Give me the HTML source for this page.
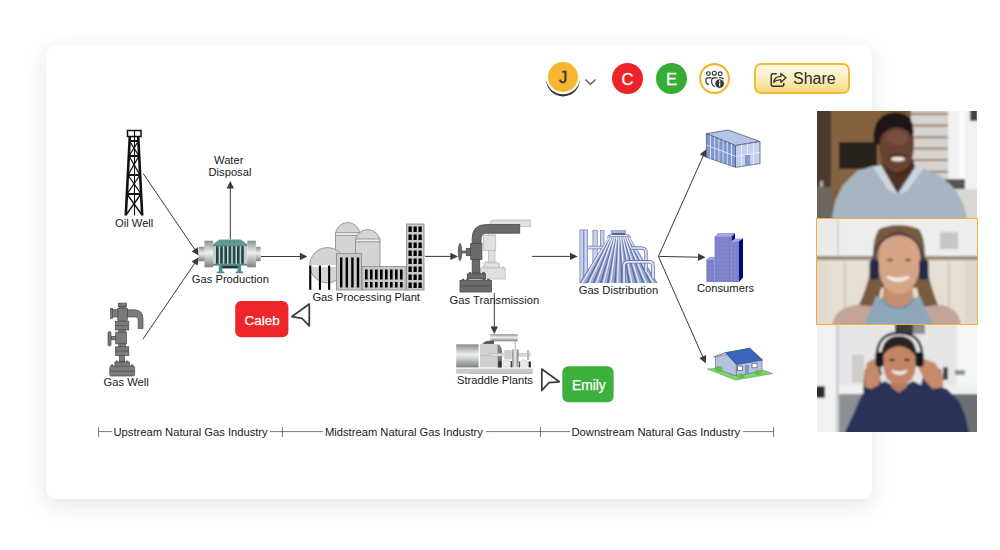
<!DOCTYPE html>
<html><head><meta charset="utf-8">
<style>
html,body{margin:0;padding:0;width:1000px;height:550px;overflow:hidden;background:#fff;font-family:"Liberation Sans",sans-serif;}
.card{position:absolute;left:46px;top:45px;width:826px;height:454px;background:#fff;border-radius:10px;box-shadow:0 6px 22px rgba(0,0,0,.11);}
.av{position:absolute;width:31px;height:31px;border-radius:50%;color:#fff;font-size:15px;line-height:31px;text-align:center;}
#diag{position:absolute;left:0;top:0;}
#diag text{font-family:"Liberation Sans",sans-serif;font-size:11.2px;fill:#1a1a1a;}
.badge{position:absolute;color:#fff;font-size:13.5px;text-align:center;border-radius:6px;}
.share{position:absolute;left:754px;top:63px;width:92px;height:27px;border:2px solid #f3bb3a;border-radius:7px;background:linear-gradient(#fff8e4 0%,#fdefc4 45%,#f9d97e 100%);}
.share span{position:absolute;left:37px;top:5px;font-size:16px;color:#2b2b2b;}
.vid{position:absolute;left:817px;width:160px;height:107px;overflow:hidden;display:block;}
</style></head>
<body>
<div class="card"></div>

<!-- avatars -->
<div class="av" style="left:548px;top:62px;width:30px;height:30px;line-height:31px;background:#f8b630;color:#333846;box-shadow:0 0 0 2.2px #fff,0 2.6px 0 1.8px #303030;font-size:16.5px;-webkit-text-stroke:0.45px #333846;">J</div>
<svg style="position:absolute;left:584px;top:77.5px" width="13" height="8"><path d="M1.5 1.5 L6.5 6.3 L11.5 1.5" fill="none" stroke="#555" stroke-width="1.2"/></svg>
<div class="av" style="left:612px;top:63px;background:#ec2427;font-size:16.5px;line-height:33px;-webkit-text-stroke:0.3px #fff;">C</div>
<div class="av" style="left:656px;top:63px;background:#36ae36;font-size:16.5px;line-height:33px;-webkit-text-stroke:0.3px #fff;">E</div>
<svg style="position:absolute;left:696px;top:60px" width="38" height="38" viewBox="0 0 38 38">
 <circle cx="18.5" cy="18.5" r="14.4" fill="#fff" stroke="#f5b624" stroke-width="2.1"/>
 <g fill="none" stroke="#333" stroke-width="1.15">
  <circle cx="12.4" cy="13.6" r="1.9"/><circle cx="18.3" cy="13.2" r="2"/><circle cx="24.2" cy="13.8" r="1.9"/>
  <path d="M15.5 17.9 H12 Q9.8 17.9 9.8 20.5 Q9.8 23.8 12.8 24.6"/>
  <path d="M21.5 17.9 H18 Q15.6 17.9 15.6 21 Q15.6 25.6 19 26.6"/>
  <path d="M23 17.9 H25.6 Q27.2 17.9 27.5 19.2"/>
 </g>
 <circle cx="23.6" cy="23.6" r="4.7" fill="#333" stroke="#fff" stroke-width="0.8"/>
 <rect x="23" y="22.6" width="1.3" height="3.7" fill="#fff"/><circle cx="23.65" cy="21.1" r="0.85" fill="#fff"/>
</svg>

<div class="share"><svg style="position:absolute;left:8px;top:0.5px" width="30" height="26" viewBox="0 0 30 26"><path d="M12.3 7.7 H9.2 Q7.2 7.7 7.2 9.7 V18.3 Q7.2 20.3 9.2 20.3 H17.8 Q19.8 20.3 19.8 18.3 V17.4" fill="none" stroke="#333" stroke-width="1.5" stroke-linecap="round"/><path d="M9.7 16.2 C10.4 12.2 13 10.4 16.9 10.4 V7.4 L22 11.7 L16.9 16.2 V13.9 C14 13.6 11.6 14.3 9.7 16.2 Z" fill="none" stroke="#333" stroke-width="1.35" stroke-linejoin="round"/></svg><span>Share</span></div>

<!-- diagram -->
<svg id="diag" width="1000" height="550" viewBox="0 0 1000 550">
 <defs>
  <linearGradient id="cylV" x1="0" y1="0" x2="0" y2="1">
   <stop offset="0" stop-color="#8a8e8e"/><stop offset="0.45" stop-color="#eef0f0"/><stop offset="1" stop-color="#7c8080"/>
  </linearGradient>
  <linearGradient id="cylH" x1="0" y1="0" x2="1" y2="0">
   <stop offset="0" stop-color="#888"/><stop offset="0.45" stop-color="#f0f0f0"/><stop offset="1" stop-color="#7a7a7a"/>
  </linearGradient>
 </defs>
 <!-- connectors -->
 <g stroke="#3a3a3a" stroke-width="1" fill="none">
<line x1="143.2" y1="173.5" x2="195.2" y2="250.1"/>
<line x1="143" y1="339" x2="195.2" y2="262.6"/>
<line x1="230.3" y1="239.4" x2="230.3" y2="187.6"/>
<line x1="261" y1="256.5" x2="300.8" y2="256.5"/>
<line x1="425" y1="256.4" x2="451.4" y2="256.4"/>
<line x1="532" y1="256.4" x2="571.0" y2="256.4"/>
<line x1="494.3" y1="293" x2="494.3" y2="327.4"/>
<line x1="658.4" y1="256.4" x2="703.6" y2="155.2"/>
<line x1="658.4" y1="256.4" x2="699.0" y2="257.2"/>
<line x1="658.4" y1="256.4" x2="703.1" y2="357.5"/>
 </g>
 <g fill="#3a3a3a">
<polygon points="198.9,255.6 191.6,251.4 197.7,247.2"/>
<polygon points="198.9,257.2 197.7,265.6 191.6,261.4"/>
<polygon points="230.3,181.0 234.0,188.6 226.6,188.6"/>
<polygon points="307.4,256.5 299.8,260.2 299.8,252.8"/>
<polygon points="458.0,256.4 450.4,260.1 450.4,252.7"/>
<polygon points="577.6,256.4 570.0,260.1 570.0,252.7"/>
<polygon points="494.3,334.0 490.6,326.4 498.0,326.4"/>
<polygon points="706.3,149.2 706.6,157.6 699.8,154.6"/>
<polygon points="705.6,257.3 697.9,260.9 698.1,253.5"/>
<polygon points="705.8,363.5 699.3,358.0 706.1,355.1"/>
 </g>

 
 <!-- Oil well derrick -->
 <g stroke="#111" fill="none">
  <rect x="127.5" y="130.5" width="13.5" height="6" stroke-width="1.5"/>
  <line x1="134.5" y1="130.5" x2="134.5" y2="136.5" stroke-width="1.2"/>
  <path d="M129.8 136.5 L125.8 215.5 M138.2 136.5 L142.2 215.5" stroke-width="2.6"/>
  <path d="M129.5 141 H138.5 M129 156 H139 M128 175 H140 M127 194 H141" stroke-width="1.8"/>
  <path d="M129.5 141 L139 156 M138.5 141 L129 156 M129 156 L140 175 M139 156 L128 175 M128 175 L141 194 M140 175 L127 194 M127 194 L142 215 M141 194 L126 215" stroke-width="1.3"/>
  <line x1="134.5" y1="136.5" x2="134.5" y2="215.5" stroke-width="1.1"/>
 </g>
 <text x="115" y="227">Oil Well</text>

 <!-- Gas well -->
 <g fill="#7b7b7b" stroke="#4c4c4c" stroke-width="0.7">
  <path d="M127 309.8 H134 Q143 309.8 143 318.8 V328.6 H138.2 V319 Q138.2 316.9 135 316.9 H127 Z"/>
  <rect x="118.3" y="303.1" width="8.3" height="3.6"/>
  <rect x="119.5" y="306.7" width="6" height="2"/>
  <rect x="117.8" y="308.2" width="9.5" height="12.4"/>
  <rect x="112.5" y="309.7" width="5.3" height="7.3"/>
  <rect x="110.6" y="308.4" width="2" height="10"/>
  <rect x="115.4" y="321.3" width="13.4" height="8.7"/>
  <line x1="115.4" y1="325.6" x2="128.8" y2="325.6"/>
  <rect x="118.8" y="330" width="6.6" height="2.2"/>
  <rect x="115.7" y="332.2" width="10.9" height="11.7"/>
  <rect x="111" y="336.4" width="4.7" height="3.4"/>
  <rect x="108" y="331.5" width="3" height="14.5" rx="1.5"/>
  <rect x="118.8" y="343.9" width="6.6" height="2.9"/>
  <rect x="115.4" y="346.8" width="13.4" height="8.7"/>
  <line x1="115.4" y1="351.1" x2="128.8" y2="351.1"/>
  <rect x="119.3" y="355.5" width="5.1" height="6.6"/>
  <rect x="114.9" y="362.1" width="14.6" height="4.2"/>
  <path d="M116 362.1 v-1.2 h1.6 v1.2 M119.4 362.1 v-1.2 h1.6 v1.2 M122.8 362.1 v-1.2 h1.6 v1.2 M126.2 362.1 v-1.2 h1.6 v1.2" fill="#666"/>
  <path d="M111 366.3 v-1.4 h2 v1.4 M131 366.3 v-1.4 h2 v1.4" fill="#666"/>
  <rect x="109.8" y="366.2" width="24.8" height="9.8" rx="1.2"/>
  <line x1="109.8" y1="371.2" x2="134.6" y2="371.2"/>
 </g>
 <text x="103.5" y="386.4">Gas Well</text>

 <!-- Gas production -->
 <g>
  <rect x="198.7" y="246.8" width="6.3" height="14.4" fill="url(#cylV)"/>
  <rect x="204.4" y="240.7" width="8.7" height="26.6" fill="url(#cylV)"/>
  <rect x="213" y="245" width="34" height="19" fill="#c8cccc"/>
  <path d="M219.7 239.4 H240.6 L247.2 244.2 H213 Z" fill="#5e9792"/>
  <rect x="213" y="244.2" width="34.2" height="2" fill="#4f8884"/>
  <g fill="#1e4745">
   <rect x="216" y="246.2" width="2.6" height="17.6"/><rect x="220.2" y="246.2" width="2.6" height="17.6"/><rect x="224.4" y="246.2" width="2.6" height="17.6"/>
   <rect x="228.6" y="246.2" width="2.6" height="17.6"/><rect x="232.8" y="246.2" width="2.6" height="17.6"/><rect x="237" y="246.2" width="2.6" height="17.6"/><rect x="241.2" y="246.2" width="2.6" height="17.6"/>
  </g>
  <rect x="213" y="263.8" width="34.2" height="1.8" fill="#4f8884"/>
  <rect x="221" y="265.6" width="19" height="2.8" fill="#123836"/>
  <path d="M218.8 265.6 h3.5 v6 h2 v1.6 h-7.5 v-1.6 h2 Z M237.6 265.6 h3.5 v6 h2 v1.6 h-7.5 v-1.6 h2 Z" fill="#4f8884"/>
  <rect x="247.2" y="240.7" width="8.7" height="26.6" fill="url(#cylV)"/>
  <rect x="255.9" y="246.8" width="4.8" height="14.4" fill="url(#cylV)"/>
 </g>
 <text x="191.8" y="283.4">Gas Production</text>
 <text x="214" y="163.6">Water</text>
 <text x="208.5" y="176.3">Disposal</text>

 <!-- Gas processing plant -->
 <g stroke="#888" stroke-width="0.8" fill="#d4d4d4">
  <path d="M335.5 235 A12.25 12.5 0 0 1 360 235 V266 H335.5 Z"/>
  <rect x="335.5" y="232.7" width="24.5" height="2.8" fill="#eee"/>
  <path d="M355.5 242 A12.25 12.5 0 0 1 380 242 V270 H355.5 Z"/>
  <rect x="355.5" y="239" width="24.5" height="2.8" fill="#eee"/>
  <circle cx="327.4" cy="265.2" r="17.6"/>
 </g>
 <rect x="309.5" y="265" width="26.5" height="2" fill="#fff"/>
 <g fill="#000">
  <rect x="309.2" y="265.5" width="2.1" height="24.3"/><rect x="318.9" y="265.5" width="2.1" height="24.3"/><rect x="328.1" y="265.5" width="2.1" height="24.3"/>
 </g>
 <g stroke="#888" stroke-width="0.8" fill="#c8c8c8">
  <rect x="336.4" y="253.6" width="25" height="36.4"/>
  <rect x="362" y="266.4" width="44" height="23.6"/>
  <rect x="406.4" y="224" width="17.6" height="66"/>
 </g>
 <g fill="#000">
  <rect x="340" y="257.5" width="2.4" height="30"/><rect x="345.6" y="257.5" width="2.4" height="30"/><rect x="351.2" y="257.5" width="2.4" height="30"/><rect x="356.8" y="257.5" width="2.4" height="30"/>
 </g>
 <g fill="#000" id="bwin">
  <rect x="365" y="269.5" width="2.6" height="10"/><rect x="370" y="269.5" width="2.6" height="10"/><rect x="375" y="269.5" width="2.6" height="10"/><rect x="380" y="269.5" width="2.6" height="10"/><rect x="385" y="269.5" width="2.6" height="10"/><rect x="390" y="269.5" width="2.6" height="10"/><rect x="395" y="269.5" width="2.6" height="10"/><rect x="400" y="269.5" width="2.6" height="10"/>
  <rect x="365" y="282" width="2.6" height="5.5"/><rect x="370" y="282" width="2.6" height="5.5"/><rect x="375" y="282" width="2.6" height="5.5"/><rect x="380" y="282" width="2.6" height="5.5"/><rect x="385" y="282" width="2.6" height="5.5"/><rect x="390" y="282" width="2.6" height="5.5"/><rect x="395" y="282" width="2.6" height="5.5"/><rect x="400" y="282" width="2.6" height="5.5"/>
 </g>
 <g fill="#000">
  <rect x="408.5" y="226.5" width="3.2" height="5.5"/><rect x="413.5" y="226.5" width="3.2" height="5.5"/><rect x="418.5" y="226.5" width="3.2" height="5.5"/>
  <rect x="408.5" y="234.5" width="3.2" height="5.5"/><rect x="413.5" y="234.5" width="3.2" height="5.5"/><rect x="418.5" y="234.5" width="3.2" height="5.5"/>
  <rect x="408.5" y="242.5" width="3.2" height="5.5"/><rect x="413.5" y="242.5" width="3.2" height="5.5"/><rect x="418.5" y="242.5" width="3.2" height="5.5"/>
  <rect x="408.5" y="250.5" width="3.2" height="5.5"/><rect x="413.5" y="250.5" width="3.2" height="5.5"/><rect x="418.5" y="250.5" width="3.2" height="5.5"/>
  <rect x="408.5" y="258.5" width="3.2" height="5.5"/><rect x="413.5" y="258.5" width="3.2" height="5.5"/><rect x="418.5" y="258.5" width="3.2" height="5.5"/>
  <rect x="408.5" y="266.5" width="3.2" height="5.5"/><rect x="413.5" y="266.5" width="3.2" height="5.5"/><rect x="418.5" y="266.5" width="3.2" height="5.5"/>
  <rect x="408.5" y="274.5" width="3.2" height="5.5"/><rect x="413.5" y="274.5" width="3.2" height="5.5"/><rect x="418.5" y="274.5" width="3.2" height="5.5"/>
  <rect x="408.5" y="282.5" width="3.2" height="5.5"/><rect x="413.5" y="282.5" width="3.2" height="5.5"/><rect x="418.5" y="282.5" width="3.2" height="5.5"/>
 </g>
 <text x="312.4" y="301">Gas Processing Plant</text>

 <!-- Gas transmission -->
 <g fill="#e0e0e0" stroke="#bdbdbd" stroke-width="0.8">
  <path d="M490 226.6 V223 Q490 220 494 220 H530.6 V226.6 Z"/>
  <rect x="488.5" y="226.6" width="6.5" height="9"/>
  <rect x="483.4" y="235.4" width="12.3" height="15.2"/>
  <rect x="488.5" y="250.6" width="6.5" height="12.4"/>
  <rect x="484" y="263" width="15.4" height="5"/>
  <rect x="480.5" y="268" width="24.7" height="11"/>
  <path d="M482 268 v-1.2 h2 v1.2 M486 268 v-1.2 h2 v1.2 M498 268 v-1.2 h2 v1.2 M502 268 v-1.2 h2 v1.2 M485.5 263 v-1.2 h2 v1.2 M490 263 v-1.2 h2 v1.2 M494.5 263 v-1.2 h2 v1.2"/>
 </g>
 <g fill="#6a6a6a" stroke="#4a4a4a" stroke-width="0.8">
  <path d="M472.2 244 V238 Q472.2 224.5 487 224.5 H519.7 V233.2 H487 Q481 233.2 481 239 V244 Z"/>
  <rect x="466.3" y="248.5" width="4.7" height="7.2"/>
  <rect x="470.7" y="243.4" width="11.2" height="16"/>
  <rect x="472.2" y="259.4" width="7.5" height="14.5"/>
  <rect x="467.4" y="273.9" width="18.1" height="5.1"/>
  <rect x="460" y="280.5" width="31.4" height="11.5"/>
  <line x1="460" y1="286" x2="491.4" y2="286"/>
  <rect x="461.5" y="250.5" width="5" height="3" stroke="none"/>
  <ellipse cx="460" cy="252" rx="1.6" ry="8.6"/>
  <path d="M462 280.5 v-1.3 h2 v1.3 M466.5 280.5 v-1.3 h2 v1.3 M483 280.5 v-1.3 h2 v1.3 M487.5 280.5 v-1.3 h2 v1.3 M469 273.9 v-1.3 h2 v1.3 M473.5 273.9 v-1.3 h2 v1.3 M478 273.9 v-1.3 h2 v1.3 M482.5 273.9 v-1.3 h2 v1.3"/>
 </g>
 <text x="449.6" y="303.6">Gas Transmission</text>

 <!-- Straddle plants -->
 <g>
  <rect x="490.4" y="334.2" width="27.3" height="7.1" fill="url(#cylV)"/>
  <line x1="515.2" y1="341" x2="515.2" y2="350" stroke="#999" stroke-width="0.8"/>
  <rect x="456.2" y="344.3" width="22.4" height="23.1" fill="url(#cylV)"/>
  <path d="M482 344 Q485 340.8 489 340.8 H494 V344 Z" fill="#555"/>
  <rect x="479.9" y="343.9" width="17.6" height="23.5" fill="#d0d0d0"/>
  <rect x="480" y="355" width="17.5" height="1" fill="#bbb"/>
  <path d="M497.5 344 Q502 346 502 352 V367.4 H497.5 Z" fill="#7a7a7a"/>
  <rect x="490" y="353.3" width="40" height="2.8" fill="#dedede" stroke="#aaa" stroke-width="0.5"/>
  <rect x="504.3" y="350" width="7.5" height="9.4" fill="#cfcfcf"/>
  <rect x="512.2" y="349.3" width="6.3" height="18.1" fill="url(#cylH)"/>
  <rect x="527" y="350" width="2" height="10" fill="#bbb"/>
  <rect x="498.4" y="361" width="3" height="6.4" fill="#333"/>
  <rect x="510.5" y="361" width="1.6" height="6.4" fill="#444"/>
  <rect x="528.6" y="361.5" width="2.2" height="5.9" fill="#222"/>
  <rect x="519" y="361.5" width="1.2" height="5.9" fill="#444"/>
  <circle cx="506.4" cy="363.6" r="3.9" fill="#ececec" stroke="#c8c8c8" stroke-width="0.5"/>
  <circle cx="524" cy="363.6" r="3.9" fill="#ececec" stroke="#c8c8c8" stroke-width="0.5"/>
  <rect x="456.2" y="368.7" width="76.6" height="5" fill="#c9c9c9"/>
  <rect x="470" y="372.7" width="62.8" height="1" fill="#b0b0b0"/>
 </g>
 <text x="457" y="384.4">Straddle Plants</text>

 <!-- Gas distribution -->
 <g id="distr">
  <g fill="#c9d2ec" stroke="#6f7eb0" stroke-width="0.7">
   <rect x="579.9" y="229.9" width="3.6" height="53"/>
   <rect x="583.9" y="229.9" width="3.6" height="53"/>
   <rect x="592.9" y="230.3" width="4.4" height="40"/>
   <rect x="600.4" y="230.3" width="3.6" height="35"/>
  </g>
  <path d="M588 247.5 H604 Q608 247.5 608 251.5 V268" fill="none" stroke="#6f7eb0" stroke-width="3.4"/>
  <path d="M588 247.5 H604 Q608 247.5 608 251.5 V268" fill="none" stroke="#d4dcf0" stroke-width="1.8"/>
  <rect x="611" y="230.3" width="14.8" height="3.2" fill="#aab4d6" stroke="#7f8cb8" stroke-width="0.5"/>
  <rect x="612" y="233.5" width="13" height="1.6" fill="#1a1a1a"/>
  <rect x="612" y="235" width="13" height="0.9" fill="#d9b441"/>
<polygon points="608.5,237 629.5,237 657.5,283 579.5,283" fill="#5d6b9e"/>
<polygon points="608.73,237 610.18,237 585.74,283 580.35,283" fill="#9ba7d3"/>
<line x1="609.25" y1="237" x2="582.25" y2="283" stroke="#eef2fb" stroke-width="1.1"/>
<polygon points="610.64,237 612.09,237 592.83,283 587.44,283" fill="#9ba7d3"/>
<line x1="611.16" y1="237" x2="589.34" y2="283" stroke="#eef2fb" stroke-width="1.1"/>
<polygon points="612.55,237 614.00,237 599.92,283 594.53,283" fill="#9ba7d3"/>
<line x1="613.07" y1="237" x2="596.43" y2="283" stroke="#eef2fb" stroke-width="1.1"/>
<polygon points="614.46,237 615.91,237 607.01,283 601.62,283" fill="#9ba7d3"/>
<line x1="614.98" y1="237" x2="603.52" y2="283" stroke="#eef2fb" stroke-width="1.1"/>
<polygon points="616.37,237 617.82,237 614.10,283 608.71,283" fill="#9ba7d3"/>
<line x1="616.89" y1="237" x2="610.61" y2="283" stroke="#eef2fb" stroke-width="1.1"/>
<polygon points="618.27,237 619.73,237 621.19,283 615.81,283" fill="#9ba7d3"/>
<line x1="618.80" y1="237" x2="617.70" y2="283" stroke="#eef2fb" stroke-width="1.1"/>
<polygon points="620.18,237 621.63,237 628.29,283 622.90,283" fill="#9ba7d3"/>
<line x1="620.71" y1="237" x2="624.79" y2="283" stroke="#eef2fb" stroke-width="1.1"/>
<polygon points="622.09,237 623.54,237 635.38,283 629.99,283" fill="#9ba7d3"/>
<line x1="622.62" y1="237" x2="631.88" y2="283" stroke="#eef2fb" stroke-width="1.1"/>
<polygon points="624.00,237 625.45,237 642.47,283 637.08,283" fill="#9ba7d3"/>
<line x1="624.53" y1="237" x2="638.97" y2="283" stroke="#eef2fb" stroke-width="1.1"/>
<polygon points="625.91,237 627.36,237 649.56,283 644.17,283" fill="#9ba7d3"/>
<line x1="626.44" y1="237" x2="646.06" y2="283" stroke="#eef2fb" stroke-width="1.1"/>
<polygon points="627.82,237 629.27,237 656.65,283 651.26,283" fill="#9ba7d3"/>
<line x1="628.35" y1="237" x2="653.15" y2="283" stroke="#eef2fb" stroke-width="1.1"/>

  <path d="M608.5 238 Q608.5 235.5 611 235.5 H627 Q629.5 235.5 629.5 238" fill="none" stroke="#6f7eb0" stroke-width="2.4"/>
  <path d="M608.5 238 Q608.5 235.5 611 235.5 H627 Q629.5 235.5 629.5 238" fill="none" stroke="#dfe5f5" stroke-width="1"/>
  <path d="M631 248 H641 Q646 248 646 253 V272" fill="none" stroke="#6f7eb0" stroke-width="3.4"/>
  <path d="M631 248 H641 Q646 248 646 253 V272" fill="none" stroke="#dfe5f5" stroke-width="1.7"/>
  <path d="M624 283 V266 Q624 261.8 628 261.8 H649 Q653 261.8 653 266 V278" fill="none" stroke="#6f7eb0" stroke-width="3.6"/>
  <path d="M624 283 V266 Q624 261.8 628 261.8 H649 Q653 261.8 653 266 V278" fill="none" stroke="#e2e8f6" stroke-width="1.8"/>
 </g>
 <text x="578.7" y="293.6">Gas Distribution</text>

 <!-- office building (isometric) -->
 <g stroke="#4a5a80" stroke-width="0.8">
  <path d="M706.4 133.6 L728.2 130 L760 141.5 L735.5 145.5 Z" fill="#b6c4e6"/>
  <path d="M706.4 133.6 L735.5 145.5 L735.5 167.3 L706.4 157.3 Z" fill="#7f98d0"/>
  <path d="M735.5 145.5 L760 141.5 L760 163.6 L735.5 167.3 Z" fill="#c5d0ea"/>
 </g>
 <g stroke="#e8eefa" stroke-width="0.8">
  <path d="M710.5 135.3 V158.7 M714.7 137 V160.2 M718.9 138.7 V161.6 M723.1 140.4 V163.1 M727.3 142.1 V164.5 M731.5 143.9 V165.9"/>
  <path d="M706.4 145 L735.5 156.3"/>
  <path d="M741.5 144.5 V166.4 M747.5 143.5 V165.5 M753.5 142.5 V164.6"/>
  <path d="M735.5 156.3 L760 152.5"/>
 </g>
 <rect x="745" y="155" width="5" height="10" fill="#7f98d0"/>

 <!-- consumers -->
 <g>
  <path d="M706.4 259.3 L710 256.8 H718 L714.6 259.3 Z" fill="#a3a6dc"/>
  <rect x="706.4" y="259.3" width="8.2" height="22.7" fill="#7b7fcb"/>
  <path d="M714.6 236.4 L718 233 H735 L731.8 236.4 Z" fill="#a3a6dc"/>
  <rect x="714.6" y="236.4" width="17.2" height="45.6" fill="#7b7fcb"/>
  <path d="M731.8 236.4 L735 233 V239 L731.8 241.3 Z" fill="#0a0a80"/>
  <path d="M731.8 241.3 L735 238.5 H743 L739 241.3 Z" fill="#a3a6dc"/>
  <rect x="731.8" y="241.3" width="7.2" height="40.7" fill="#7b7fcb"/>
  <path d="M739 241.3 L743 238.5 V277.5 L739 282 Z" fill="#05057a"/>
  <g stroke="#9699d6" stroke-width="0.5" opacity="0.8">
   <path d="M718 238 V282 M721 238 V282 M724 238 V282 M727 238 V282 M735 243 V282"/>
   <path d="M706.4 264 H739 M706.4 268 H739 M706.4 272 H739 M706.4 276 H739 M714.6 244 H739 M714.6 248 H739 M714.6 252 H739 M714.6 256 H739 M714.6 260 H739"/>
  </g>
 </g>
 <text x="697" y="292.3">Consumers</text>

 <!-- house -->
 <g>
  <path d="M707.3 369 L751.8 366 L772.7 373.6 L735.5 380 Z" fill="#7fd46e" stroke="#5a9a4e" stroke-width="0.6"/>
  <path d="M715.5 356.4 L725.5 352.7 L736.4 364.5 L736.4 376 L715.5 369 Z" fill="#b7c1e2" stroke="#55607a" stroke-width="0.6"/>
  <path d="M736.4 364.5 L762 360 L762 371 L736.4 376 Z" fill="#b7c1e2" stroke="#55607a" stroke-width="0.6"/>
  <path d="M713.5 357 L725.5 352.7 L750 348.2 L738 352.6 Z" fill="#dfe4f3" stroke="#55607a" stroke-width="0.6"/>
  <path d="M725.5 352.7 L750 348.2 L762.7 360 L736.4 364.5 Z" fill="#3b66b8" stroke="#2a4a90" stroke-width="0.6"/>
  <rect x="737.5" y="366" width="5" height="4.5" fill="#fff" stroke="#555" stroke-width="0.7"/>
  <rect x="752" y="363.3" width="5" height="4.5" fill="#fff" stroke="#555" stroke-width="0.7"/>
  <rect x="745" y="365" width="4" height="9" fill="#7f98d0"/>
  <ellipse cx="719" cy="369" rx="3.5" ry="2.8" fill="#5cc04a"/>
  <ellipse cx="741" cy="376" rx="3.5" ry="2.5" fill="#5cc04a"/>
  <ellipse cx="758" cy="372.5" rx="3.5" ry="2.5" fill="#5cc04a"/>
 </g>

 <!-- stage labels -->
 <g stroke="#555" stroke-width="0.8">
  <line x1="98.6" y1="427" x2="98.6" y2="437"/>
  <line x1="282.4" y1="427" x2="282.4" y2="437"/>
  <line x1="540.4" y1="427" x2="540.4" y2="437"/>
  <line x1="773.6" y1="427" x2="773.6" y2="437"/>
  <line x1="98.6" y1="431.6" x2="112" y2="431.6"/>
  <line x1="270" y1="431.6" x2="323" y2="431.6"/>
  <line x1="486" y1="431.6" x2="570" y2="431.6"/>
  <line x1="743" y1="431.6" x2="773.6" y2="431.6"/>
 </g>
 <text x="113.5" y="435.8">Upstream Natural Gas Industry</text>
 <text x="325" y="435.8">Midstream Natural Gas Industry</text>
 <text x="571.5" y="435.8">Downstream Natural Gas Industry</text>

 <!-- badges -->
 <rect x="235.2" y="301" width="53.2" height="36.3" rx="6" fill="#ef2629"/>
 <text x="244.6" y="324.7" style="font-size:13.4px;fill:#fff;stroke:#fff;stroke-width:0.25px">Caleb</text>
 <rect x="562.3" y="366.2" width="51.3" height="36.1" rx="6" fill="#3bb03c"/>
 <text x="572" y="389.8" style="font-size:13.8px;fill:#fff;stroke:#fff;stroke-width:0.25px">Emily</text>
 <!-- cursors -->
 <path d="M292 316.6 L309.3 304 L309.3 325.8 L302 318.4 Z" fill="#fff" stroke="#3d3d3d" stroke-width="1.8" stroke-linejoin="round"/>
 <path d="M541.8 369.1 L559.3 381.8 L549 382.7 L541.8 390.5 Z" fill="#fff" stroke="#3d3d3d" stroke-width="1.8" stroke-linejoin="round"/>
</svg>

<!-- videos -->
<svg class="vid" style="top:111px;" width="160" height="107" viewBox="0 0 160 107">
 <defs><filter id="b1" x="-5%" y="-5%" width="110%" height="110%"><feGaussianBlur stdDeviation="0.8"/></filter></defs>
 <g filter="url(#b1)">
 <rect x="-10" y="-10" width="180" height="127" fill="#7c5a3a"/>
 <rect x="14" y="-10" width="50" height="90" fill="#86643f"/>
 <rect x="-10" y="-10" width="24" height="127" fill="#4a3a32"/>
 <rect x="3" y="70" width="3" height="37" fill="#b8aaa2"/>
 <rect x="-10" y="76" width="26" height="41" fill="#706660"/>
 <rect x="22" y="31" width="38" height="27" fill="#26211d"/>
 <rect x="94" y="-10" width="40" height="88" fill="#d6d3d0"/>
 <g fill="#9c7c5e"><rect x="94" y="2" width="38" height="2"/><rect x="94" y="13.6" width="38" height="2"/><rect x="94" y="25.3" width="38" height="2"/><rect x="94" y="36.5" width="38" height="2"/><rect x="94" y="48" width="38" height="2"/><rect x="94" y="59.8" width="38" height="2"/></g>
 <rect x="131" y="-10" width="39" height="127" fill="#f1f1f1"/>
 <rect x="142" y="-10" width="6" height="90" fill="#fbfbfb"/>
 <rect x="153" y="-10" width="8" height="20" fill="#4a4238"/>
 <rect x="126" y="68" width="22" height="10" fill="#5c524c"/>
 <rect x="130" y="78" width="40" height="39" fill="#dcd7d1"/>
 <path d="M15 117 L15 107 L18 90 L26 74 L40 60 L56 55 L64 56 L80.5 82 L98 56 L108 58 L125 66 L138 78 L146 92 L150 107 L150 117 Z" fill="#a7b4c2"/>
 <path d="M64 56 L80.5 82 L98 56 L96 48 L66 48 Z" fill="#4e3224"/>
 <path d="M56 56 L72 80 L80.5 83 L64 54 Z M100 54 L82 83 L90 80 L106 58 Z" fill="#cdd6e0"/>
 <path d="M62 31 Q62 16 80 16 Q97 16 97 32 Q97 50 90 59 Q85 64.5 80 64.5 Q74 64.5 69 59 Q62 50 62 31 Z" fill="#694333"/>
 <ellipse cx="80" cy="27" rx="11" ry="7" fill="#83584a" opacity="0.6"/>
 <path d="M56.5 31 Q55 3 77 1.5 Q97 1 96.5 22 L95.5 28 Q92 17 80 16.5 Q68 17 63.5 27 L62.5 34 L59 33 Z" fill="#1c1816"/>
 <path d="M66 52 Q80 70 94 52 L92 60 Q82 69 72 62 Z" fill="#2e1c14" opacity="0.6"/>
 <path d="M72 45.5 Q81 42.5 90 45.5" stroke="#2a1a12" stroke-width="1.5" fill="none"/>
 <ellipse cx="81" cy="48" rx="7" ry="2.3" fill="#ebe2da"/>
 </g>
</svg>
<svg class="vid" style="top:218px;" width="160" height="107" viewBox="0 0 160 107">
 <g filter="url(#b1)">
 <rect x="-10" y="-10" width="180" height="127" fill="#e6ded3"/>
 <rect x="-10" y="-10" width="180" height="50" fill="#eceeee"/>
 <rect x="-10" y="-10" width="28" height="50" fill="#e8eaea"/>
 <rect x="20" y="2" width="2" height="36" fill="#cdd0d0"/>
 <rect x="123" y="14" width="18" height="17" fill="#c6c6c6"/>
 <rect x="-10" y="38" width="180" height="4" fill="#9a8874"/>
 <rect x="-10" y="42" width="22" height="75" fill="#e2dace"/>
 <rect x="148" y="42" width="22" height="75" fill="#ded6ca"/>
 <path d="M28 44 V100 M132 44 V100" stroke="#d2c8ba" stroke-width="2"/>
 <path d="M15 117 L15 107 Q18 90 38 87 L124 87 Q142 90 144 107 L144 117 Z" fill="#c2a598"/>
 <path d="M62 11 Q82 3 102 11 Q108 20 108 36 L110 50 Q114 70 121 87 L104 89 L100 70 L64 70 L60 89 L42 87 Q50 70 54 50 L56 36 Q56 20 62 11 Z" fill="#785a40"/>
 <path d="M67 66 L65 84 Q81 98 97 84 L95 66 Z" fill="#c48e70"/>
 <path d="M61 40 Q61 18 82 18 Q103 18 103 40 Q103 62 94 71 Q88 76 82 76 Q76 76 70 71 Q61 62 61 40 Z" fill="#d6a587"/>
 <path d="M56 48 Q54 22 82 14 Q108 22 106 48" fill="none" stroke="#2a2e4c" stroke-width="1.6"/>
 <rect x="52.5" y="41.5" width="9.5" height="20" rx="3.5" fill="#252a48"/>
 <rect x="102" y="41.5" width="9.5" height="20" rx="3.5" fill="#252a48"/>
 <path d="M46 117 L47 107 L55 88 L59 78 L65 80 Q81 100 97 80 L103 78 L107 88 L116 107 L117 117 Z" fill="#8da7b8"/>
 <path d="M65 81 Q81 100 97 81" stroke="#6f8a9c" stroke-width="1.5" fill="none"/>
 <path d="M70 59 Q81 66 92 59 Q81 63 70 59 Z" fill="#f6eeea" stroke="#f6eeea" stroke-width="2.5"/>
 <ellipse cx="73" cy="42" rx="3" ry="1.3" fill="#6a4a3a"/><ellipse cx="91" cy="42" rx="3" ry="1.3" fill="#6a4a3a"/>
 </g>
</svg>
<div style="position:absolute;left:816px;top:218px;width:160px;height:105px;border:1px solid #f5b12e;"></div>
<svg class="vid" style="top:325px;" width="160" height="107" viewBox="0 0 160 107">
 <g filter="url(#b1)">
 <rect x="-10" y="-10" width="180" height="127" fill="#e4e6e8"/>
 <rect x="-10" y="-10" width="30" height="127" fill="#f0f1f2"/>
 <rect x="19" y="-10" width="3" height="127" fill="#cacccf"/>
 <rect x="-10" y="61" width="18" height="12" fill="#2c2c2c"/>
 <rect x="140" y="-10" width="30" height="70" fill="#f3f5f6"/>
 <rect x="22" y="60" width="148" height="9" fill="#eef0f0"/>
 <rect x="22" y="69" width="30" height="48" fill="#8c9094"/>
 <rect x="135" y="69" width="35" height="48" fill="#6c7074"/>
 <rect x="78" y="-10" width="18" height="19" fill="#3e3e3e"/>
 <rect x="96" y="-10" width="12" height="19" fill="#8c8c8c"/>
 <rect x="35" y="30" width="12" height="28" fill="#d0ccc8"/>
 <rect x="126" y="42" width="5" height="13" fill="#444"/>
 <rect x="138" y="45" width="10" height="5" fill="#8a9098"/>
 <path d="M28 117 L28 107 L36 90 L42 76 L48 64 L60 60 L68 56 L82 64 L96 56 L104 60 L124 62 L130 64 L142 76 L148 90 L152 107 L152 117 Z" fill="#2a3358"/>
 <path d="M46 66 L48 44 L62 44 L64 60 Z" fill="#2a3358"/>
 <path d="M126 66 L124 44 L108 44 L104 60 Z" fill="#2a3358"/>
 <path d="M47.5 50 L50 38 L56 34 L62 36 L64 48 L62 60 L54 64 L48 62 Z" fill="#c48a6a"/>
 <path d="M102 44 L102 36 L108 34 L118 38 L126 50 L126 62 L116 64 L108 56 Z" fill="#c48a6a"/>
 <path d="M74 52 L74 62 L82 68 L90 62 L90 52 Z" fill="#b47a5c"/>
 <path d="M66 36 Q66 18 82.5 18 Q99 18 99 36 Q99 52 92 57 Q87 60 82.5 60 Q78 60 73 57 Q66 52 66 36 Z" fill="#c28666"/>
 <path d="M64 34 Q64 11 82 11 Q100 11 100 34 Q94 22 82 21 Q70 22 64 34 Z" fill="#2a2222"/>
 <path d="M60 36 Q58 8 82.5 8 Q107 8 105 36" fill="none" stroke="#121212" stroke-width="2.6"/>
 <rect x="58.5" y="27" width="8" height="15" rx="3" fill="#141414"/>
 <rect x="98.5" y="27" width="8" height="15" rx="3" fill="#141414"/>
 <path d="M62 40 L64 50" stroke="#141414" stroke-width="1.5"/>
 <path d="M75 46 Q82.5 52 90 46 Q82.5 49 75 46 Z" fill="#f4ece6" stroke="#f4ece6" stroke-width="2"/>
 <ellipse cx="75" cy="35" rx="3" ry="1.2" fill="#3a2a22"/><ellipse cx="90" cy="35" rx="3" ry="1.2" fill="#3a2a22"/>
 </g>
</svg>
</body></html>
